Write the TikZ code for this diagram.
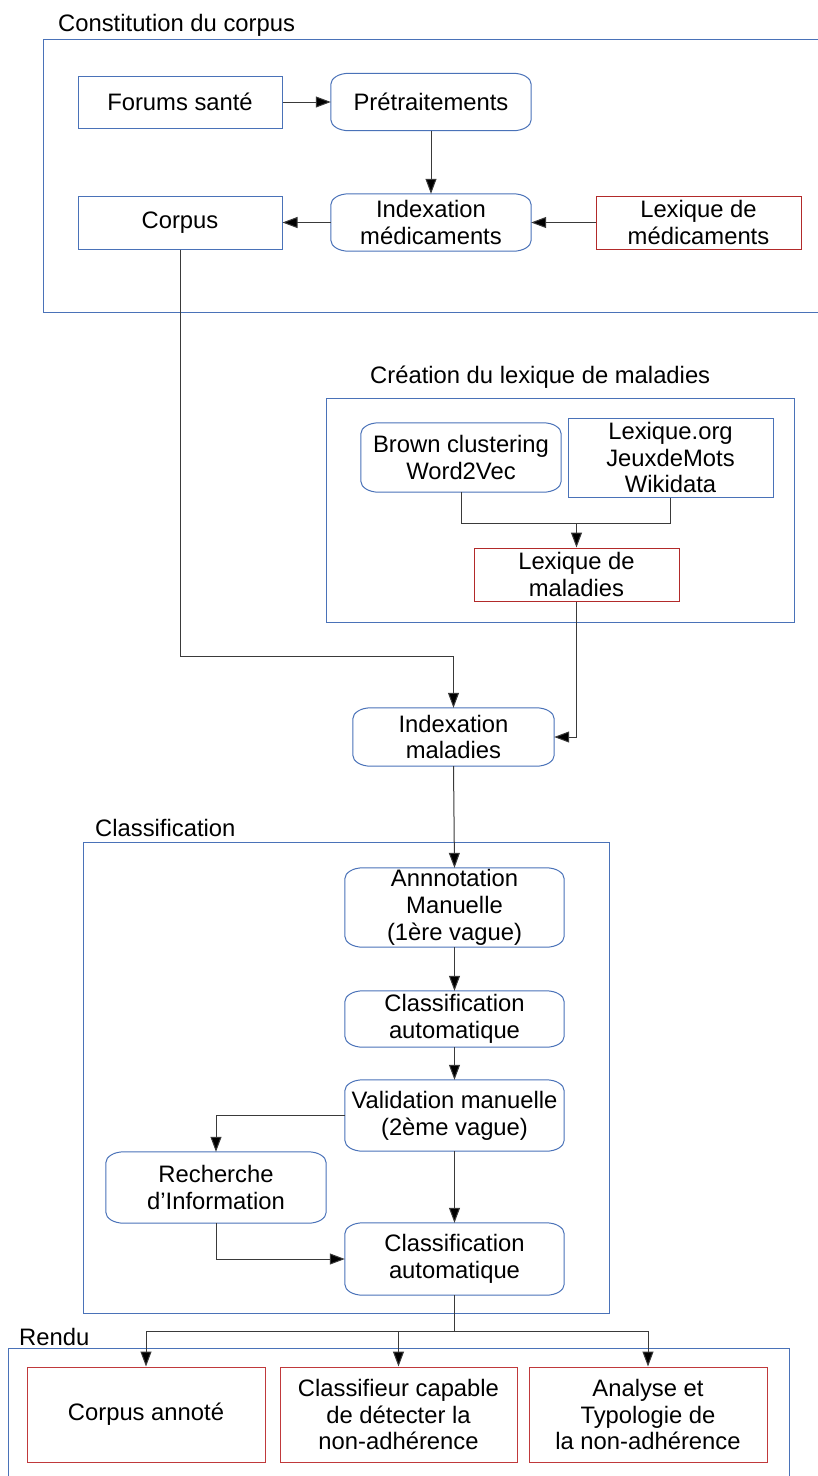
\documentclass[tikz,border=0pt]{standalone}
\usepackage{fontspec}
\setmainfont{Liberation Sans}
\usetikzlibrary{arrows.meta,calc}
\definecolor{bl}{HTML}{4A72B8}
\definecolor{rd}{HTML}{B22A2A}
\definecolor{rd2}{HTML}{C0393B}
\definecolor{ln}{HTML}{3A3A3A}
\tikzset{
 txt/.style={font=\fontsize{23.8pt}{26.8pt}\selectfont, align=center, inner sep=0pt},
 sz/.style n args={2}{minimum width=#1pt, minimum height=#2pt},
 rectbox/.style={txt, draw=bl, line width=1pt},
 redbox/.style={txt, draw=rd, line width=1pt},
 redbox2/.style={txt, draw=rd2, line width=1pt},
 roundbox/.style={txt},
 frame/.style={draw=bl, line width=1pt},
 title/.style={txt, anchor=west},
 conn/.style={draw=ln, line width=1pt},
 arr/.style={conn, -{Triangle[length=15pt,width=11pt,fill=black]}},
 rbline/.style={draw=bl, line width=1pt},
}
\newcommand\rbx[1]{\draw[rbline] ([yshift=-11pt]#1.north west) arc[start angle=180,end angle=90,x radius=18pt,y radius=11pt] -- ([xshift=-18pt]#1.north east) arc[start angle=90,end angle=0,x radius=18pt,y radius=11pt] -- ([yshift=11pt]#1.south east) arc[start angle=0,end angle=-90,x radius=18pt,y radius=11pt] -- ([xshift=18pt]#1.south west) arc[start angle=270,end angle=180,x radius=18pt,y radius=11pt] -- cycle;}
\begin{document}
\begin{tikzpicture}[x=1pt,y=-1pt]
\useasboundingbox (0,0) rectangle (818,1476);
% frames
\draw[frame] (818,39) -- (43,39) -- (43,312) -- (818,312);
\node[title] (t1) at (58,25) {Constitution du corpus};
\draw[frame] (326,398) rectangle (794,622);
\node[title] (t2) at (370,377) {Création du lexique de maladies};
\draw[frame] (83,842) rectangle (609,1313);
\node[title] (t3) at (95,828) {Classification};
\draw[frame] (8,1476) -- (8,1348) -- (789,1348) -- (789,1476);
\node[title] (t4) at (19,1337) {Rendu};
% nodes
\node[rectbox, sz={204}{52}] (forums) at (180,102) {Forums santé};
\node[roundbox, sz={200}{57}] (pretr) at (431,102) {Prétraitements};
\node[roundbox, sz={200}{57}] (indexmed) at (431,222.5) {Indexation\\médicaments};
\node[rectbox, sz={204}{53}] (corpus) at (180,222.5) {Corpus};
\node[redbox, sz={205}{53}] (lexmed) at (698.5,222.5) {Lexique de\\médicaments};
\node[roundbox, sz={200}{69}] (brown) at (461,457.5) {Brown clustering\\Word2Vec};
\node[rectbox, sz={205}{79}] (lexorg) at (670.5,457.5) {Lexique.org\\JeuxdeMots\\Wikidata};
\node[redbox, sz={205}{53}] (lexmal) at (576.5,574.5) {Lexique de\\maladies};
\node[roundbox, sz={201}{58}] (indexmal) at (453.5,737) {Indexation\\maladies};
\node[roundbox, sz={219}{79}] (annot) at (454.5,907.5) {Annnotation\\Manuelle\\(1ère vague)};
\node[roundbox, sz={219}{56}] (ca1) at (454.5,1019) {Classification\\automatique};
\node[roundbox, sz={219}{71}] (valid) at (454.5,1115.5) {Validation manuelle\\(2ème vague)};
\node[roundbox, sz={220}{71}] (rech) at (216,1187.5) {Recherche\\d’Information};
\node[roundbox, sz={219}{72}] (ca2) at (454.5,1259) {Classification\\automatique};
\node[redbox2, sz={238}{95}] (out1) at (146,1414.5) {Corpus annoté};
\node[redbox2, sz={237}{95}] (out2) at (398.5,1414.5) {Classifieur capable\\de détecter la\\non-adhérence};
\node[redbox2, sz={238}{95}] (out3) at (648,1414.5) {Analyse et\\Typologie de\\la non-adhérence};
% rounded outlines
\rbx{pretr}\rbx{indexmed}\rbx{brown}\rbx{indexmal}\rbx{annot}\rbx{ca1}\rbx{valid}\rbx{rech}\rbx{ca2}
% connectors
\draw[arr] (forums.east) -- (pretr.west);
\draw[arr] (pretr.south) -- (indexmed.north);
\draw[arr] (indexmed.west) -- (corpus.east);
\draw[arr] (lexmed.west) -- (indexmed.east);
\coordinate (j1) at (576.5,523);
\draw[arr] (brown.south) |- (j1) -- (lexmal.north);
\draw[conn] (lexorg.south) |- (j1);
\coordinate (j2) at (453.5,656);
\draw[arr] (corpus.south) |- (j2) -- (indexmal.north);
\draw[arr] (lexmal.south) |- (indexmal.east);
\draw[arr] (indexmal.south) -- (annot.north);
\draw[arr] (annot.south) -- (ca1.north);
\draw[arr] (ca1.south) -- (valid.north);
\draw[arr] (valid.south) -- (ca2.north);
\draw[arr] (valid.west) -| (rech.north);
\draw[arr] (rech.south) |- (ca2.west);
\coordinate (br) at (454.5,1331);
\draw[conn] (ca2.south) -- (br);
\draw[arr] (br) -| (out1.north);
\draw[arr] (br) -| (out2.north);
\draw[arr] (br) -| (out3.north);
\end{tikzpicture}
\end{document}
